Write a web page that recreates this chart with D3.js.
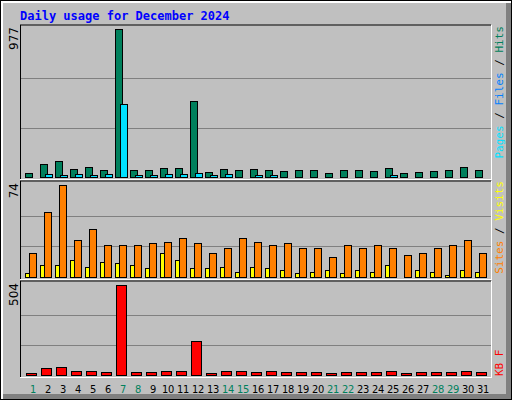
<!DOCTYPE html>
<html><head><meta charset="utf-8">
<script src="https://cdn.jsdelivr.net/npm/d3@7"></script>
<style>body{margin:0;background:#fff}</style></head><body>
<script>
const days = d3.range(1,32);
const weekend = [1,7,8,14,15,21,22,28,29];
const hits  = [27,86,106,53,66,46,977,46,46,60,60,505,33,53,46,53,46,40,46,46,27,46,46,40,60,27,33,40,46,66,46];
const files = [1,1,1,1,1,1,1,1,1,1,1,1,1,1,1,1,1,1,1,1,1,1,1,1,1,1,1,1,1,1,1];
const pages = [0,20,13,20,13,20,485,13,13,20,20,26,13,20,0,13,13,0,0,0,0,0,0,0,13,0,0,0,0,0,0];
const sites = [19,52,74,30,39,26,26,26,27,28,31,27,19,23,31,28,26,27,23,23,16,26,23,26,23,18,19,23,26,30,19];
const visits= [3,10,10,14,8,12,11,10,7,19,14,7,7,8,4,8,7,6,3,4,6,3,6,4,10,0,6,4,2,6,4];
const kb    = [11,39,44,22,22,17,504,17,17,22,22,188,11,22,22,17,22,17,17,17,11,17,17,17,22,11,17,17,17,22,17];
const maxTop=977, maxMid=74, maxBot=504;

const W=512,H=400;
const svg=d3.select("body").append("svg").attr("width",W).attr("height",H);
svg.append("rect").attr("x",0).attr("y",0).attr("width",W).attr("height",H).attr("fill","#000");
svg.append("rect").attr("x",1).attr("y",1).attr("width",W-2).attr("height",H-2).attr("fill","#fff");
svg.append("rect").attr("x",3).attr("y",3).attr("width",W-4).attr("height",H-4).attr("fill","#808080");
svg.append("rect").attr("x",3).attr("y",3).attr("width",W-9).attr("height",H-9).attr("fill","#c0c0c0");

svg.append("text").attr("x",20).attr("y",20).text("Daily usage for December 2024")
  .attr("fill","#0000ff").attr("font-family","DejaVu Sans Mono").attr("font-weight","bold").attr("font-size","12px");

const x=d3.scaleBand().domain(days).range([25,490]).paddingInner(0).paddingOuter(0);

function panel(y0,y1,max,label){
  svg.append("line").attr("x1",20).attr("x2",491).attr("y1",y0).attr("y2",y0).attr("stroke","#000");
  svg.append("line").attr("x1",20.5).attr("x2",20.5).attr("y1",y0).attr("y2",y1).attr("stroke","#000");
  svg.append("line").attr("x1",491.5).attr("x2",491.5).attr("y1",y0).attr("y2",y1+1).attr("stroke","#fff");
  svg.append("line").attr("x1",20).attr("x2",492).attr("y1",y1+0.5).attr("y2",y1+0.5).attr("stroke","#fff");
  const y=d3.scaleLinear().domain([0,max]).range([y1-2,y0+4]);
  [1/3,2/3].forEach(f=>svg.append("line").attr("x1",21).attr("x2",491)
    .attr("y1",Math.round(y(max*f))+0.5).attr("y2",Math.round(y(max*f))+0.5).attr("stroke","#808080"));
  svg.append("text").attr("transform",`translate(18,${y0+2}) rotate(-90)`).attr("text-anchor","end")
    .text(label).attr("font-family","DejaVu Sans").attr("font-size","12px").attr("fill","#000");
  return y;
}
function bars(y,data,dx,w,color){
  svg.append("g").selectAll("rect").data(days).join("rect")
    .attr("x",d=>Math.round(x(d))+dx+0.5).attr("width",w)
    .attr("y",(d,i)=>Math.round(y(data[i]))+0.5)
    .attr("height",(d,i)=>Math.max(0,Math.round(y(0))-Math.round(y(data[i]))))
    .attr("fill",color).attr("stroke","#000").attr("stroke-width",1);
}
const yT=panel(25,179,maxTop,"977");
bars(yT,hits,0,7,"#00805c");
bars(yT,files,3,7,"#000000");
bars(yT,pages,5,7,"#00e0ff");
const yM=panel(181,279,maxMid,"74");
bars(yM,visits,0,4,"#ffff00");
bars(yM,sites,4,7,"#ff8000");
const yB=panel(281,377,maxBot,"504");
bars(yB,kb,1,10,"#ff0000");

svg.append("g").selectAll("text").data(days).join("text")
  .attr("x",d=>x(d)+8).attr("y",393).attr("text-anchor","middle")
  .attr("font-family","DejaVu Sans Condensed").attr("font-size","11px").attr("letter-spacing","-0.3px")
  .attr("fill",d=>weekend.includes(d)?"#00805c":"#000").text(d=>d);

function legend(yEnd,parts){
  const t=svg.append("text").attr("transform",`translate(503,${yEnd}) rotate(-90)`).attr("text-anchor","end")
    .attr("font-family","DejaVu Sans Mono").attr("font-size","11px").attr("xml:space","preserve");
  parts.forEach(p=>t.append("tspan").attr("fill",p[1]).text(p[0]));
}
legend(26,[["Pages","#00e0ff"],[" / ","#000"],["Files","#0080ff"],[" / ","#000"],["Hits","#00805c"]]);
legend(181,[["Sites","#ff8000"],[" / ","#000"],["Visits","#ffff00"]]);
svg.append("text").attr("transform",`translate(503,376) rotate(-90)`).attr("text-anchor","start")
  .attr("font-family","DejaVu Sans Mono").attr("font-size","11px").attr("fill","#ff0000").text("KB F");
</script></body></html>
